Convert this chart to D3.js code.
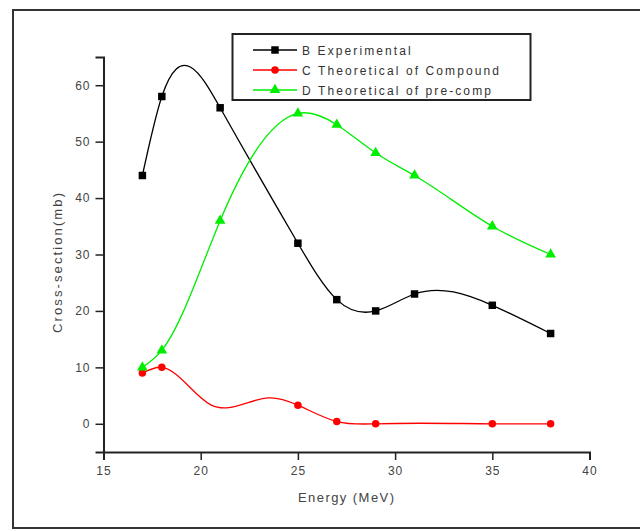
<!DOCTYPE html>
<html>
<head>
<meta charset="utf-8">
<script src="https://cdn.jsdelivr.net/npm/d3@7"></script>
<style>
  html, body { margin: 0; padding: 0; background: #fff; }
  svg { display: block; }
  text { font-family: "Liberation Sans", Arial, sans-serif; }
</style>
</head>
<body>
<svg id="chart" width="640" height="531"></svg>
<script>
// Energies (MeV) at which cross-sections were measured / calculated
const energies = [17, 18, 21, 25, 27, 29, 31, 35, 38];
const compoundEnergies = [17, 18, 20.5, 23.5, 25, 27, 29, 35, 38];

// Cross-section values (mb)
const experimental = [44, 58, 56, 32, 22, 20, 23, 21, 16];
const compound = [9, 10, 3.4, 4.6, 3.3, 0.4, 0, 0, 0];
const preCompound = [10, 13, 36, 55, 53, 48, 44, 35, 30];

// energies where the compound-model curve carries a symbol
const compoundMarkerEnergies = [17, 18, 25, 27, 29, 35, 38];

const seriesNames = ["B Experimental", "C Theoretical of Compound", "D Theoretical of pre-comp"];
const xTicks = [15, 20, 25, 30, 35, 40];
const yTicks = [0, 10, 20, 30, 40, 50, 60];

// Curve factory: natural cubic spline of y as a function of x,
// emitted as cubic Bezier segments (same interface as d3's curves).
function curveSplineX(context) {
  let xs, ys;
  return {
    areaStart() {}, areaEnd() {},
    lineStart() { xs = []; ys = []; },
    point(px, py) { xs.push(+px); ys.push(+py); },
    lineEnd() {
      const n = xs.length;
      if (!n) return;
      context.moveTo(xs[0], ys[0]);
      if (n === 1) return;
      if (n === 2) { context.lineTo(xs[1], ys[1]); return; }
      const h = [];
      for (let i = 0; i < n - 1; i++) h.push(xs[i + 1] - xs[i]);
      // tridiagonal system for second derivatives, natural ends
      const m = new Array(n).fill(0);
      const a = [], b = [], c = [], r = [];
      for (let i = 1; i < n - 1; i++) {
        a.push(h[i - 1]);
        b.push(2 * (h[i - 1] + h[i]));
        c.push(h[i]);
        r.push(6 * ((ys[i + 1] - ys[i]) / h[i] - (ys[i] - ys[i - 1]) / h[i - 1]));
      }
      const k = r.length;
      for (let i = 1; i < k; i++) {
        const w = a[i] / b[i - 1];
        b[i] -= w * c[i - 1];
        r[i] -= w * r[i - 1];
      }
      const sol = new Array(k);
      sol[k - 1] = r[k - 1] / b[k - 1];
      for (let i = k - 2; i >= 0; i--) sol[i] = (r[i] - c[i] * sol[i + 1]) / b[i];
      for (let i = 0; i < k; i++) m[i + 1] = sol[i];
      for (let i = 0; i < n - 1; i++) {
        const s = (ys[i + 1] - ys[i]) / h[i];
        const d0 = s - h[i] * (2 * m[i] + m[i + 1]) / 6;
        const d1 = s + h[i] * (m[i] + 2 * m[i + 1]) / 6;
        const t = h[i] / 3;
        context.bezierCurveTo(xs[i] + t, ys[i] + d0 * t, xs[i + 1] - t, ys[i + 1] - d1 * t, xs[i + 1], ys[i + 1]);
      }
    }
  };
}

const svg = d3.select("#chart");

// outer frame
svg.append("rect")
  .attr("x", 13).attr("y", 10)
  .attr("width", 660).attr("height", 518)
  .attr("fill", "#fff").attr("stroke", "#333").attr("stroke-width", 2);

const x = d3.scaleLinear().domain([15, 40]).range([103.5, 589.5]);
const y = d3.scaleLinear().domain([-5, 65]).range([452, 57]);

const axisColor = "#222";
const labelColor = "#444";

// x axis
const gx = svg.append("g").attr("transform", `translate(0,${y(-5)})`);
gx.call(d3.axisBottom(x).tickValues(d3.range(17.5, 40, 5)).tickSize(5).tickFormat(""));
gx.call(d3.axisBottom(x).tickValues(xTicks).tickSize(8).tickPadding(6).tickFormat(d3.format("d")));
gx.selectAll("path.domain").attr("stroke", axisColor).attr("stroke-width", 2);
gx.selectAll(".tick line").attr("stroke", axisColor).attr("stroke-width", 1.5);
gx.selectAll(".tick text").attr("fill", labelColor).attr("font-size", 12)
  .attr("font-family", "Liberation Sans, Arial, sans-serif").attr("letter-spacing", 1);

// y axis
const gy = svg.append("g").attr("transform", `translate(${x(15)},0)`);
gy.call(d3.axisLeft(y).tickValues(d3.range(-5, 70, 10)).tickSize(5).tickFormat(""));
gy.call(d3.axisLeft(y).tickValues(yTicks).tickSize(8).tickPadding(5).tickFormat(d3.format("d")));
gy.selectAll("path.domain").attr("stroke", axisColor).attr("stroke-width", 2);
gy.selectAll(".tick line").attr("stroke", axisColor).attr("stroke-width", 1.5);
gy.selectAll(".tick text").attr("fill", labelColor).attr("font-size", 12)
  .attr("font-family", "Liberation Sans, Arial, sans-serif").attr("letter-spacing", 1);

// axis titles
svg.append("text")
  .attr("x", 346).attr("y", 502)
  .attr("text-anchor", "middle")
  .attr("font-size", 13).attr("fill", labelColor)
  .attr("textLength", 96).attr("lengthAdjust", "spacing")
  .text("Energy (MeV)");

svg.append("text")
  .attr("transform", "translate(62,263) rotate(-90)")
  .attr("text-anchor", "middle")
  .attr("font-size", 13).attr("fill", labelColor)
  .attr("textLength", 140).attr("lengthAdjust", "spacing")
  .text("Cross-section(mb)");

// series
const series = [
  { name: seriesNames[0], xs: energies, ys: experimental, marked: energies, color: "#000000", marker: d3.symbolSquare, size: 56 },
  { name: seriesNames[1], xs: compoundEnergies, ys: compound, marked: compoundMarkerEnergies, color: "#ff0000", marker: d3.symbolCircle, size: 44 },
  { name: seriesNames[2], xs: energies, ys: preCompound, marked: energies, color: "#00ee00", marker: d3.symbolTriangle, size: 50 }
];

const line = d3.line().x(d => x(d[0])).y(d => y(d[1])).curve(curveSplineX);

series.forEach(s => {
  const pts = s.xs.map((e, i) => [e, s.ys[i]]);
  svg.append("path")
    .attr("d", line(pts))
    .attr("fill", "none")
    .attr("stroke", s.color)
    .attr("stroke-width", 1.3);
  svg.append("g").selectAll("path")
    .data(pts.filter(d => s.marked.includes(d[0]))).join("path")
    .attr("transform", d => `translate(${x(d[0])},${y(d[1])})`)
    .attr("d", d3.symbol().type(s.marker).size(s.size))
    .attr("fill", s.color);
});

// legend
const lg = svg.append("g");
lg.append("rect")
  .attr("x", 232.5).attr("y", 34).attr("width", 298).attr("height", 66)
  .attr("fill", "#fff").attr("stroke", "#222").attr("stroke-width", 2);
series.forEach((s, i) => {
  const ly = 50 + i * 20;
  lg.append("line")
    .attr("x1", 253).attr("x2", 297).attr("y1", ly).attr("y2", ly)
    .attr("stroke", s.color).attr("stroke-width", 1.5);
  lg.append("path")
    .attr("transform", `translate(275,${ly})`)
    .attr("d", d3.symbol().type(s.marker).size(s.size))
    .attr("fill", s.color);
  lg.append("text")
    .attr("x", 302).attr("y", ly + 4.5)
    .attr("font-size", 12).attr("fill", "#333")
    .attr("letter-spacing", 2.1)
    .text(s.name);
});
</script>
</body>
</html>
